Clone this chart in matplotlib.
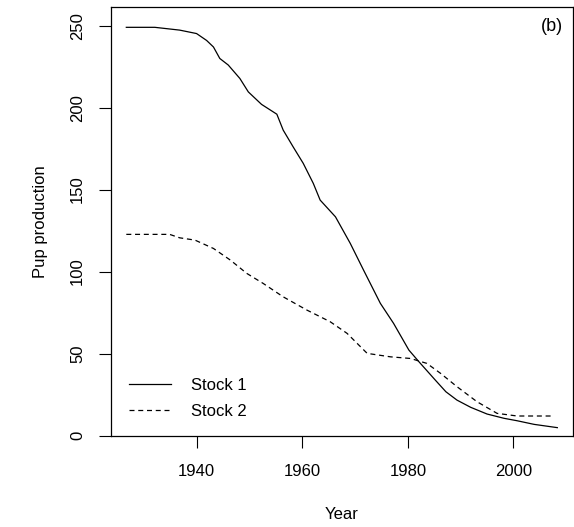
import matplotlib.pyplot as plt

plt.rcParams['font.family'] = ['Liberation Sans', 'DejaVu Sans']

# Stock 1 (solid line)
years1 = [1926.7, 1932.1, 1936.8, 1940.0, 1941.9, 1943.2, 1944.4, 1946.0, 1948.2,
          1949.8, 1952.3, 1955.2, 1956.4, 1958.3, 1960.2, 1962.1, 1963.4, 1966.3,
          1969.1, 1971.6, 1974.8, 1977.3, 1980.2, 1982.1, 1985.2, 1987.2, 1989.3,
          1991.9, 1995.0, 1998.2, 2000.7, 2003.9, 2008.3]
pups1 = [249.0, 249.0, 247.3, 245.2, 241.0, 237.0, 230.0, 226.0, 217.8,
         209.6, 202.0, 196.0, 186.3, 176.0, 166.0, 153.8, 143.6, 133.4,
         117.2, 101.0, 80.6, 68.4, 52.1, 45.0, 33.8, 26.7, 21.6,
         17.2, 13.1, 10.5, 9.0, 6.8, 4.8]

# Stock 2 (dashed line)
years2 = [1926.7, 1934.9, 1936.8, 1939.7, 1943.2, 1946.4, 1949.5, 1952.6, 1956.4,
          1960.9, 1965.3, 1968.5, 1972.3, 1976.7, 1980.5, 1983.6, 1986.2, 1989.3,
          1993.1, 1996.9, 2000.7, 2007.7]
pups2 = [122.7, 122.7, 120.6, 119.2, 114.1, 107.0, 98.9, 92.8, 84.6,
         76.5, 69.4, 62.3, 50.1, 48.0, 47.0, 44.0, 37.9, 29.8,
         20.6, 13.5, 11.9, 11.9]

xticks = [1940, 1960, 1980, 2000]
yticks = [0, 50, 100, 150, 200, 250]

fig = plt.figure(figsize=(5.74, 5.27), dpi=100)
ax = fig.add_axes([0.193, 0.1736, 0.805, 0.8125])

ax.plot(years1, pups1, color='black', lw=0.9, label='Stock 1')
ax.plot(years2, pups2, color='black', lw=0.9, ls=(0, (4, 3)), label='Stock 2')

ax.set_xlim(1923.76, 2011.24)
ax.set_ylim(0, 261.2)
ax.set_xticks(xticks)
ax.set_yticks(yticks)
ax.set_yticklabels([str(v) for v in yticks], rotation=90, va='center')
ax.tick_params(axis='both', direction='out', length=8.6, width=0.8, labelsize=12)
ax.tick_params(axis='x', pad=12)
ax.tick_params(axis='y', pad=10)
for s in ax.spines.values():
    s.set_linewidth(0.9)

ax.set_xlabel('Year', fontsize=12, labelpad=20)
ax.set_ylabel('Pup production', fontsize=12, labelpad=16)

ax.text(0.955, 0.955, '(b)', transform=ax.transAxes, fontsize=13,
        ha='center', va='center')

ax.legend(loc='lower left', frameon=False, fontsize=12, handlelength=2.5,
          handletextpad=1.2, borderaxespad=0.3, bbox_to_anchor=(0.015, 0.012),
          labelspacing=0.65)

fig.savefig('out.png', dpi=100)
